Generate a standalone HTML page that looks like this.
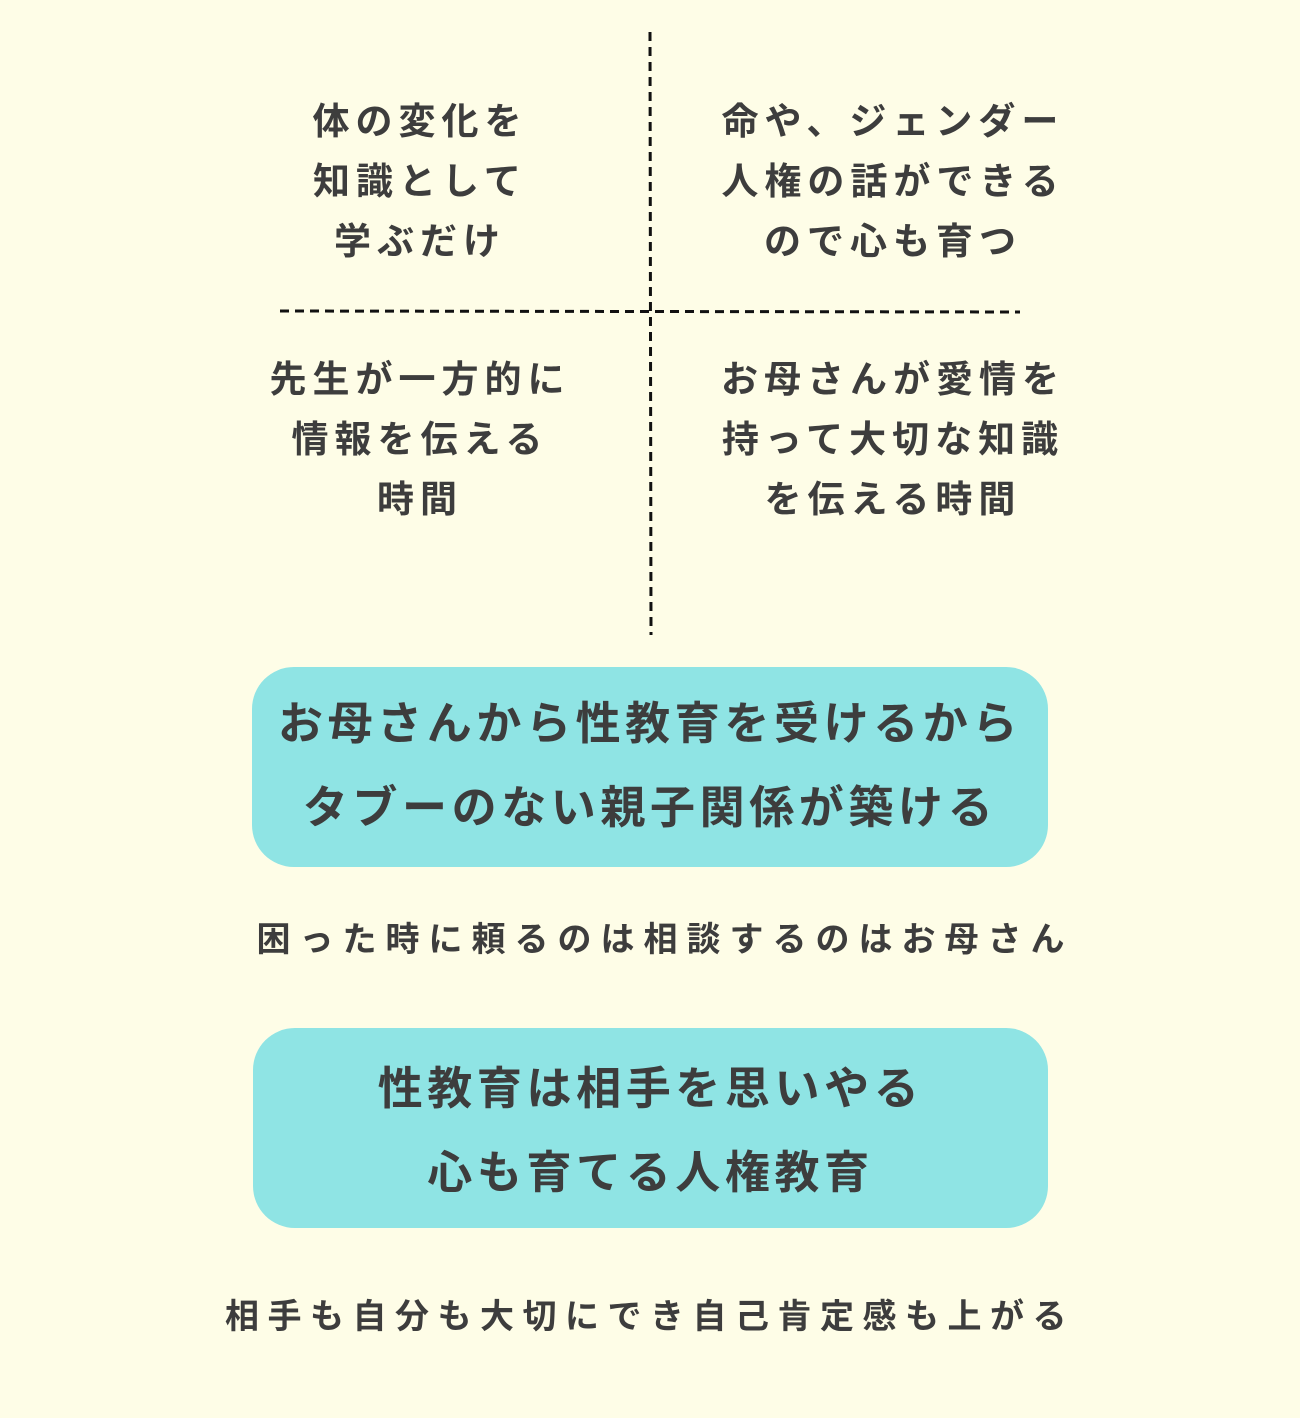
<!DOCTYPE html>
<html><head><meta charset="utf-8">
<style>
html,body{margin:0;padding:0;}
body{width:1300px;height:1418px;background:#FEFDE7;position:relative;overflow:hidden;
font-family:"Liberation Sans","Noto Sans CJK JP",sans-serif;color:#3d3d3d;}
.t{position:absolute;text-align:center;white-space:nowrap;font-weight:700;}
.q{font-size:37px;line-height:60px;letter-spacing:6px;}
.box{position:absolute;background:#8FE4E4;border-radius:42px;}
.b{font-size:45px;line-height:84px;letter-spacing:4.6px;}
</style></head><body>
<svg width="1300" height="1418" style="position:absolute;left:0;top:0">
<line x1="650" y1="32" x2="651" y2="635" stroke="#111" stroke-width="3" stroke-dasharray="9,6"/>
<line x1="280" y1="311" x2="1020" y2="312" stroke="#111" stroke-width="3" stroke-dasharray="9,6"/>
</svg>
<div class="t q" style="left:220px;width:400px;top:92px;">体の変化を<br>知識として<br>学ぶだけ</div>
<div class="t q" style="left:693px;width:400px;top:92px;">命や、ジェンダー<br>人権の話ができる<br>ので心も育つ</div>
<div class="t q" style="left:220px;width:400px;top:350px;">先生が一方的に<br>情報を伝える<br>時間</div>
<div class="t q" style="left:693px;width:400px;top:350px;">お母さんが愛情を<br>持って大切な知識<br>を伝える時間</div>
<div class="box" style="left:252px;top:667px;width:796px;height:200px;"></div>
<div class="t b" style="left:252px;width:796px;top:682px;">お母さんから性教育を受けるから<br>タブーのない親子関係が築ける</div>
<div class="t" style="left:200px;width:930px;top:918px;font-size:34px;line-height:44px;letter-spacing:9px;">困った時に頼るのは相談するのはお母さん</div>
<div class="box" style="left:253px;top:1028px;width:795px;height:200px;"></div>
<div class="t b" style="left:253px;width:795px;top:1047px;">性教育は相手を思いやる<br>心も育てる人権教育</div>
<div class="t" style="left:150px;width:1000px;top:1295px;font-size:34px;line-height:44px;letter-spacing:8.5px;">相手も自分も大切にでき自己肯定感も上がる</div>
</body></html>
